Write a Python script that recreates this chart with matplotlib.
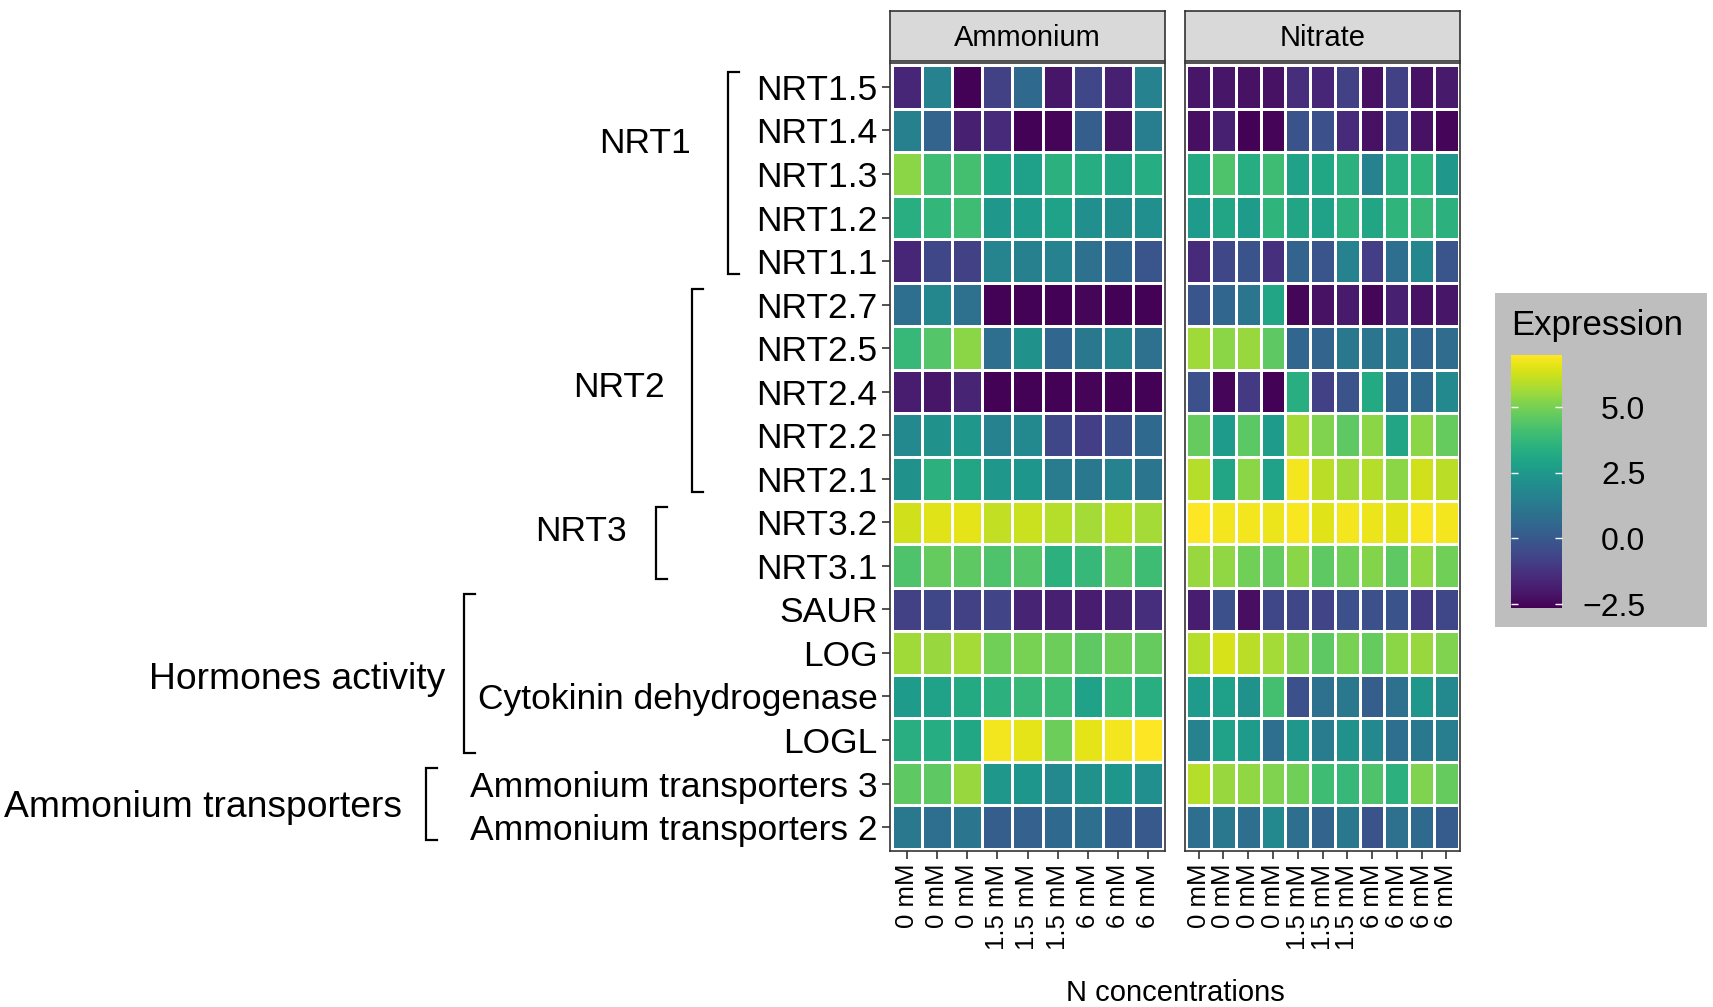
import numpy as np
import matplotlib
matplotlib.use("Agg")
import matplotlib.pyplot as plt
from matplotlib.colors import Normalize
from matplotlib.cm import ScalarMappable
from matplotlib.lines import Line2D
from matplotlib.patches import Rectangle
import matplotlib.transforms as mtransforms

plt.rcParams['font.family'] = ['Liberation Sans', 'DejaVu Sans']

# ---------------- data ----------------
genes = ["NRT1.5", "NRT1.4", "NRT1.3", "NRT1.2", "NRT1.1",
         "NRT2.7", "NRT2.5", "NRT2.4", "NRT2.2", "NRT2.1",
         "NRT3.2", "NRT3.1",
         "SAUR", "LOG", "Cytokinin dehydrogenase", "LOGL",
         "Ammonium transporters 3", "Ammonium transporters 2"]

ammonium_labels = ["0 mM", "0 mM", "0 mM", "1.5 mM", "1.5 mM", "1.5 mM", "6 mM", "6 mM", "6 mM"]
nitrate_labels = ["0 mM", "0 mM", "0 mM", "0 mM", "1.5 mM", "1.5 mM", "1.5 mM",
                  "6 mM", "6 mM", "6 mM", "6 mM"]

ammonium = [
    [-1.6, 1.6, -2.6, -0.8, 0.6, -2.1, -0.6, -1.8, 1.6],
    [1.5, 0.4, -1.8, -1.5, -2.6, -2.55, 0.2, -2.2, 1.4],
    [5.3, 4.0, 4.1, 3.1, 2.8, 3.5, 3.3, 3.0, 3.3],
    [3.4, 3.7, 4.0, 2.5, 2.6, 2.9, 2.1, 2.0, 2.1],
    [-1.6, -0.6, -0.8, 1.7, 1.5, 1.6, 0.9, 0.5, -0.1],
    [0.8, 1.8, 0.9, -2.6, -2.6, -2.6, -2.5, -2.6, -2.6],
    [3.8, 4.4, 5.3, 0.8, 2.2, 0.5, 1.2, 1.6, 0.9],
    [-1.9, -2.1, -1.7, -2.6, -2.6, -2.6, -2.55, -2.6, -2.6],
    [1.9, 2.2, 2.5, 1.6, 1.9, -0.6, -0.9, -0.3, 0.6],
    [2.2, 3.5, 3.0, 2.5, 2.4, 1.3, 1.2, 1.6, 1.1],
    [6.3, 6.5, 6.6, 6.1, 6.2, 5.9, 5.7, 5.9, 5.7],
    [4.3, 4.7, 4.6, 4.3, 4.4, 3.5, 3.8, 4.5, 4.0],
    [-0.8, -0.6, -0.8, -0.7, -1.7, -1.8, -1.9, -1.7, -1.4],
    [5.6, 5.5, 5.7, 4.9, 5.0, 4.8, 4.6, 4.8, 4.7],
    [2.6, 2.9, 3.2, 3.5, 3.8, 4.0, 2.9, 3.7, 3.4],
    [3.4, 3.3, 3.1, 6.8, 6.6, 4.8, 6.6, 6.8, 7.0],
    [4.6, 4.6, 5.5, 2.5, 2.4, 1.9, 2.2, 2.4, 2.1],
    [1.2, 0.8, 1.1, 0.2, 0.3, 0.6, 0.8, 0.1, 0.0],
]

nitrate = [
    [-2.1, -2.1, -2.2, -2.2, -1.4, -1.6, -0.8, -2.2, -0.8, -2.2, -2.0],
    [-2.3, -1.8, -2.6, -2.55, -0.2, -0.3, -1.5, -2.2, -0.6, -2.2, -2.5],
    [3.2, 4.3, 3.3, 4.0, 2.9, 3.1, 3.5, 1.6, 3.4, 3.6, 2.5],
    [2.6, 3.0, 2.6, 3.6, 3.0, 2.9, 3.5, 3.0, 3.6, 3.8, 3.5],
    [-1.5, -0.6, -0.2, -1.3, 0.4, -0.1, 1.6, -0.9, 0.8, 1.8, -0.1],
    [-0.1, 0.5, 1.1, 3.0, -2.5, -2.2, -2.0, -2.5, -1.8, -2.2, -2.1],
    [5.6, 5.3, 5.5, 4.6, 0.5, 0.4, 1.2, 1.1, 1.1, 0.5, 0.7],
    [-0.3, -2.5, -1.0, -2.6, 3.4, -0.8, -0.2, 3.2, 0.5, 0.6, 1.9],
    [4.7, 2.6, 4.5, 2.6, 5.7, 5.1, 4.6, 5.3, 3.0, 5.3, 4.7],
    [5.9, 3.0, 5.3, 2.9, 6.8, 6.0, 5.6, 5.9, 5.3, 6.3, 6.0],
    [7.0, 6.8, 6.8, 6.7, 6.9, 6.5, 6.8, 6.7, 6.5, 6.9, 6.8],
    [5.5, 5.4, 4.9, 4.7, 5.3, 4.6, 4.9, 5.2, 4.6, 5.4, 4.9],
    [-1.9, -0.3, -2.3, -0.6, -0.6, -0.7, -0.3, -0.3, -0.2, -1.0, -0.6],
    [5.9, 6.4, 6.0, 5.7, 5.1, 4.6, 5.0, 4.7, 5.3, 5.5, 5.1],
    [2.6, 2.8, 2.2, 4.1, -0.3, 0.9, 1.2, 0.2, 0.9, 2.5, 1.9],
    [1.6, 2.9, 2.6, 0.8, 2.5, 1.3, 2.2, 1.9, 0.8, 1.2, 1.4],
    [5.9, 5.5, 5.4, 5.1, 4.9, 4.0, 3.8, 4.3, 3.5, 5.1, 4.7],
    [0.8, 1.2, 0.8, 1.9, 0.8, 0.4, 1.2, -0.2, 0.9, 0.6, 0.1],
]

# group name, first row, last row
groups = [("NRT1", 0, 4), ("NRT2", 5, 9), ("NRT3", 10, 11),
          ("Hormones activity", 12, 15), ("Ammonium transporters", 16, 17)]

legend_ticks = [-2.5, 0.0, 2.5, 5.0]
vmin, vmax = -2.65, 6.98

# ---------------- layout ----------------
W, H = 1713, 1007
fig = plt.figure(figsize=(W / 100, H / 100), dpi=100)
fig.patch.set_facecolor('white')


def frac(x0, y0, x1, y1):
    return [x0 / W, 1 - y1 / H, (x1 - x0) / W, (y1 - y0) / H]


norm = Normalize(vmin, vmax)
cmap = plt.get_cmap('viridis')
dark = '#333333'

panel_top, panel_bot = 63, 851
panels = [("Ammonium", ammonium, ammonium_labels, 890),
          ("Nitrate", nitrate, nitrate_labels, 1185)]
axes = []
for i, (name, vals, labels, x0) in enumerate(panels):
    ax = fig.add_axes(frac(x0, panel_top, x0 + 275, panel_bot))
    data = np.array(vals)
    ny, nx = data.shape
    ax.pcolormesh(np.arange(nx + 1) - 0.5, np.arange(ny + 1) - 0.5, data,
                  cmap=cmap, norm=norm, edgecolors='white', linewidth=0.8)
    ax.set_xlim(-0.55, nx - 0.45)
    ax.set_ylim(ny - 0.45, -0.55)
    ax.set_xticks(range(nx))
    ax.set_xticklabels(labels, rotation=90, fontsize=18.5, va='top', ha='center')
    ax.tick_params(axis='x', length=6, width=1.2, color=dark, pad=3, labelcolor='black')
    ax.set_yticks(range(ny))
    if i == 0:
        ax.set_yticklabels(genes, fontsize=25.5)
        ax.tick_params(axis='y', length=6, width=1.2, color=dark, pad=3, labelcolor='black')
    else:
        ax.tick_params(axis='y', left=False, labelleft=False)
    for s in ax.spines.values():
        s.set_color(dark)
        s.set_linewidth(1.2)
    axes.append(ax)

    sax = fig.add_axes(frac(x0, 11, x0 + 275, 61))
    sax.set_facecolor('#d9d9d9')
    sax.set_xticks([])
    sax.set_yticks([])
    for s in sax.spines.values():
        s.set_color(dark)
        s.set_linewidth(1.2)
    sax.text(0.5, 0.45, name, ha='center', va='center', fontsize=21, transform=sax.transAxes)

# group brackets and labels
bracket_x = [728, 692, 656, 464, 426]
label_right = [691, 665, 627, 445, 402]
label_row = [1.3, 6.9, 10.2, 13.6, 16.55]
label_size = [25.5, 25.5, 25.5, 26.8, 26.8]
blend = mtransforms.blended_transform_factory(fig.transFigure, axes[0].transData)
tick = 11
for (gname, r0, r1), bx, lx, ly, fs in zip(groups, bracket_x, label_right, label_row, label_size):
    y0, y1 = r0 - 0.35, r1 + 0.3
    fig.add_artist(Line2D([(bx + tick) / W, bx / W, bx / W, (bx + tick) / W],
                          [y0, y0, y1, y1], transform=blend, color='black',
                          lw=1.6, solid_joinstyle='miter', clip_on=False))
    fig.text(lx / W, ly, gname, transform=blend, ha='right', va='center', fontsize=fs)

# x title
fig.text(1175 / W, 1 - 993 / H, 'N concentrations', ha='center', va='center', fontsize=21)

# legend
fig.add_artist(Rectangle((1495 / W, 1 - 627 / H), 212 / W, 334 / H,
                         transform=fig.transFigure, facecolor='#bebebe',
                         edgecolor='none', zorder=-5))
fig.text(1511 / W, 1 - 325 / H, 'Expression', ha='left', va='center', fontsize=25)
cax = fig.add_axes(frac(1511, 355, 1562, 608))
cax.set_zorder(5)
cb = fig.colorbar(ScalarMappable(norm=norm, cmap=cmap), cax=cax)
cb.outline.set_visible(False)
cax.set_yticks(legend_ticks)
cax.set_yticklabels([f"{t:.1f}".replace('-', '\u2212') for t in legend_ticks])
cax.tick_params(axis='y', which='major', direction='in', length=5, width=1,
                color='white', labelcolor='black', labelsize=23, pad=60,
                left=True, right=True, labelleft=False, labelright=True)
cax.tick_params(axis='y', which='minor', left=False, right=False)
for t in cax.get_yticklabels():
    t.set_ha('right')

fig.savefig('out.png', dpi=100)
